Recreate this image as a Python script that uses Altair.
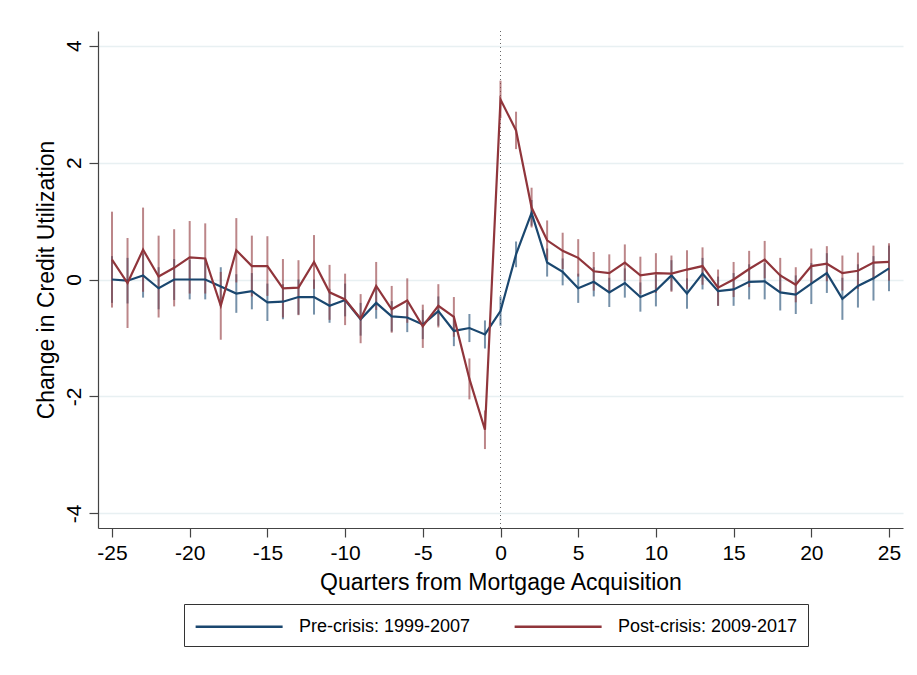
import pandas as pd
import altair as alt

BLUE = "#1a476f"
RED = "#90353b"
GRID = "#e8f0f2"
AXIS = "#444444"
FONT = "Liberation Sans"

PRE_LABEL = "Pre-crisis: 1999-2007"
POST_LABEL = "Post-crisis: 2009-2017"

quarters = list(range(-25, 26))
event_quarter = [0]

pre_est = [
    0.00, -0.02, 0.07, -0.15, 0.00, 0.00, 0.00, -0.12, -0.24, -0.20,
    -0.39, -0.38, -0.30, -0.30, -0.45, -0.35, -0.68, -0.40, -0.63, -0.65,
    -0.77, -0.54, -0.88, -0.83, -0.94,
    -0.54,
    0.43, 1.14, 0.29, 0.13, -0.15, -0.04, -0.22, -0.06, -0.30, -0.19,
    0.07, -0.24, 0.10, -0.20, -0.17, -0.04, -0.03, -0.22, -0.26, -0.07,
    0.11, -0.33, -0.11, 0.02, 0.19,
]
pre_ci = [
    0.40, 0.39, 0.38, 0.36, 0.35, 0.34, 0.34, 0.33, 0.33, 0.31,
    0.32, 0.30, 0.30, 0.30, 0.29, 0.28, 0.28, 0.27, 0.26, 0.25,
    0.25, 0.25, 0.26, 0.24, 0.24,
    0.25,
    0.22, 0.22, 0.24, 0.23, 0.25, 0.25, 0.25, 0.25, 0.25, 0.27,
    0.26, 0.26, 0.27, 0.25, 0.28, 0.30, 0.31, 0.31, 0.33, 0.35,
    0.34, 0.36, 0.37, 0.38, 0.39,
]
post_est = [
    0.34, -0.06, 0.51, 0.05, 0.20, 0.38, 0.36, -0.45, 0.50, 0.23,
    0.23, -0.15, -0.14, 0.30, -0.22, -0.34, -0.67, -0.11, -0.51, -0.36,
    -0.80, -0.45, -0.64, -1.70, -2.57,
    3.08,
    2.55, 1.23, 0.67, 0.49, 0.37, 0.14, 0.11, 0.29, 0.07, 0.11,
    0.10, 0.17, 0.23, -0.14, 0.00, 0.18, 0.34, 0.07, -0.09, 0.23,
    0.27, 0.11, 0.15, 0.29, 0.30,
]
post_ci = [
    0.82, 0.77, 0.72, 0.70, 0.66, 0.62, 0.60, 0.58, 0.55, 0.52,
    0.51, 0.50, 0.47, 0.46, 0.47, 0.44, 0.42, 0.41, 0.40, 0.38,
    0.37, 0.37, 0.34, 0.35, 0.33,
    0.32,
    0.32, 0.34, 0.34, 0.31, 0.32, 0.33, 0.32, 0.31, 0.32, 0.34,
    0.31, 0.33, 0.32, 0.31, 0.30, 0.31, 0.32, 0.30, 0.30, 0.30,
    0.30, 0.30, 0.31, 0.29, 0.32,
]

pre = pd.DataFrame({"q": quarters, "est": pre_est, "ci": pre_ci, "series": PRE_LABEL})
post = pd.DataFrame({"q": quarters, "est": post_est, "ci": post_ci, "series": POST_LABEL})
df = pd.concat([pre, post], ignore_index=True)
df["lo"] = df["est"] - df["ci"]
df["hi"] = df["est"] + df["ci"]

# hyphen instead of the unicode minus that d3-format gives
HYPHEN_LABEL = "datum.value < 0 ? '-' + abs(datum.value) : '' + datum.value"

x_scale = alt.Scale(domain=[-25.9, 25.9], nice=False, zero=False)
y_scale = alt.Scale(domain=[-4.25, 4.25], nice=False, zero=False)
color_scale = alt.Scale(domain=[PRE_LABEL, POST_LABEL], range=[BLUE, RED])

# long legend key: a path that runs 4x past the (small) symbol box so the
# legend rows stay short
legend = alt.Legend(
    title=None, orient="none", legendX=86, legendY=573,
    direction="horizontal", gridAlign="all", columnPadding=30,
    symbolType="M-1,0H7", symbolSize=473, symbolStrokeWidth=2.4,
    symbolFillColor="transparent", symbolOpacity=1,
    labelOffset=80, labelFontSize=18, labelFont=FONT, labelColor="#000000",
    labelLimit=400,
    strokeColor="#333333", fillColor="white", padding=10,
)
color_enc = alt.Color("series:N", scale=color_scale, legend=legend)

x_enc = alt.X(
    "q:Q", scale=x_scale, title="Quarters from Mortgage Acquisition",
    axis=alt.Axis(values=list(range(-25, 26, 5)), grid=False,
                  labelExpr=HYPHEN_LABEL),
)
y_enc = alt.Y(
    "est:Q", scale=y_scale, title="Change in Credit Utilization",
    axis=alt.Axis(values=[-4, -2, 0, 2, 4], grid=True, labelAngle=270,
                  labelAlign="center", labelBaseline="bottom",
                  labelExpr=HYPHEN_LABEL, titlePadding=5),
)

zero_line = (
    alt.Chart(pd.DataFrame({"q": event_quarter}))
    .mark_rule(color="#666666", strokeDash=[1, 3], strokeWidth=1)
    .encode(x=alt.X("q:Q", scale=x_scale))
)

bars = (
    alt.Chart(df)
    .mark_rule(strokeWidth=2, opacity=0.6)
    .encode(
        x=alt.X("q:Q", scale=x_scale),
        y=alt.Y("lo:Q", scale=y_scale),
        y2="hi:Q",
        color=color_enc,
    )
)

pre_line = (
    alt.Chart(pre)
    .mark_line(strokeWidth=2.2)
    .encode(x=x_enc, y=y_enc, color=color_enc)
)
post_line = (
    alt.Chart(post)
    .mark_line(strokeWidth=2.2)
    .encode(x=alt.X("q:Q", scale=x_scale), y=alt.Y("est:Q", scale=y_scale),
            color=color_enc)
)

chart = (
    alt.layer(zero_line, bars, pre_line, post_line)
    .properties(
        width=805, height=497,
        autosize=alt.AutoSizeParams(type="none"),
        padding={"left": 90, "top": 23, "right": 6, "bottom": 139},
        background="white",
    )
    .configure_view(strokeWidth=0)
    .configure_axis(
        labelFont=FONT, titleFont=FONT,
        labelFontSize=21, titleFontSize=23,
        labelColor="#000000", titleColor="#000000",
        titleFontWeight="normal",
        domainColor=AXIS, tickColor=AXIS, domainWidth=1.2, tickWidth=1.2,
        tickSize=9, labelPadding=5, titlePadding=8,
        gridColor=GRID, gridWidth=1.5,
    )
)

chart.save("out.html", embed_options={"renderer": "svg", "actions": False})
